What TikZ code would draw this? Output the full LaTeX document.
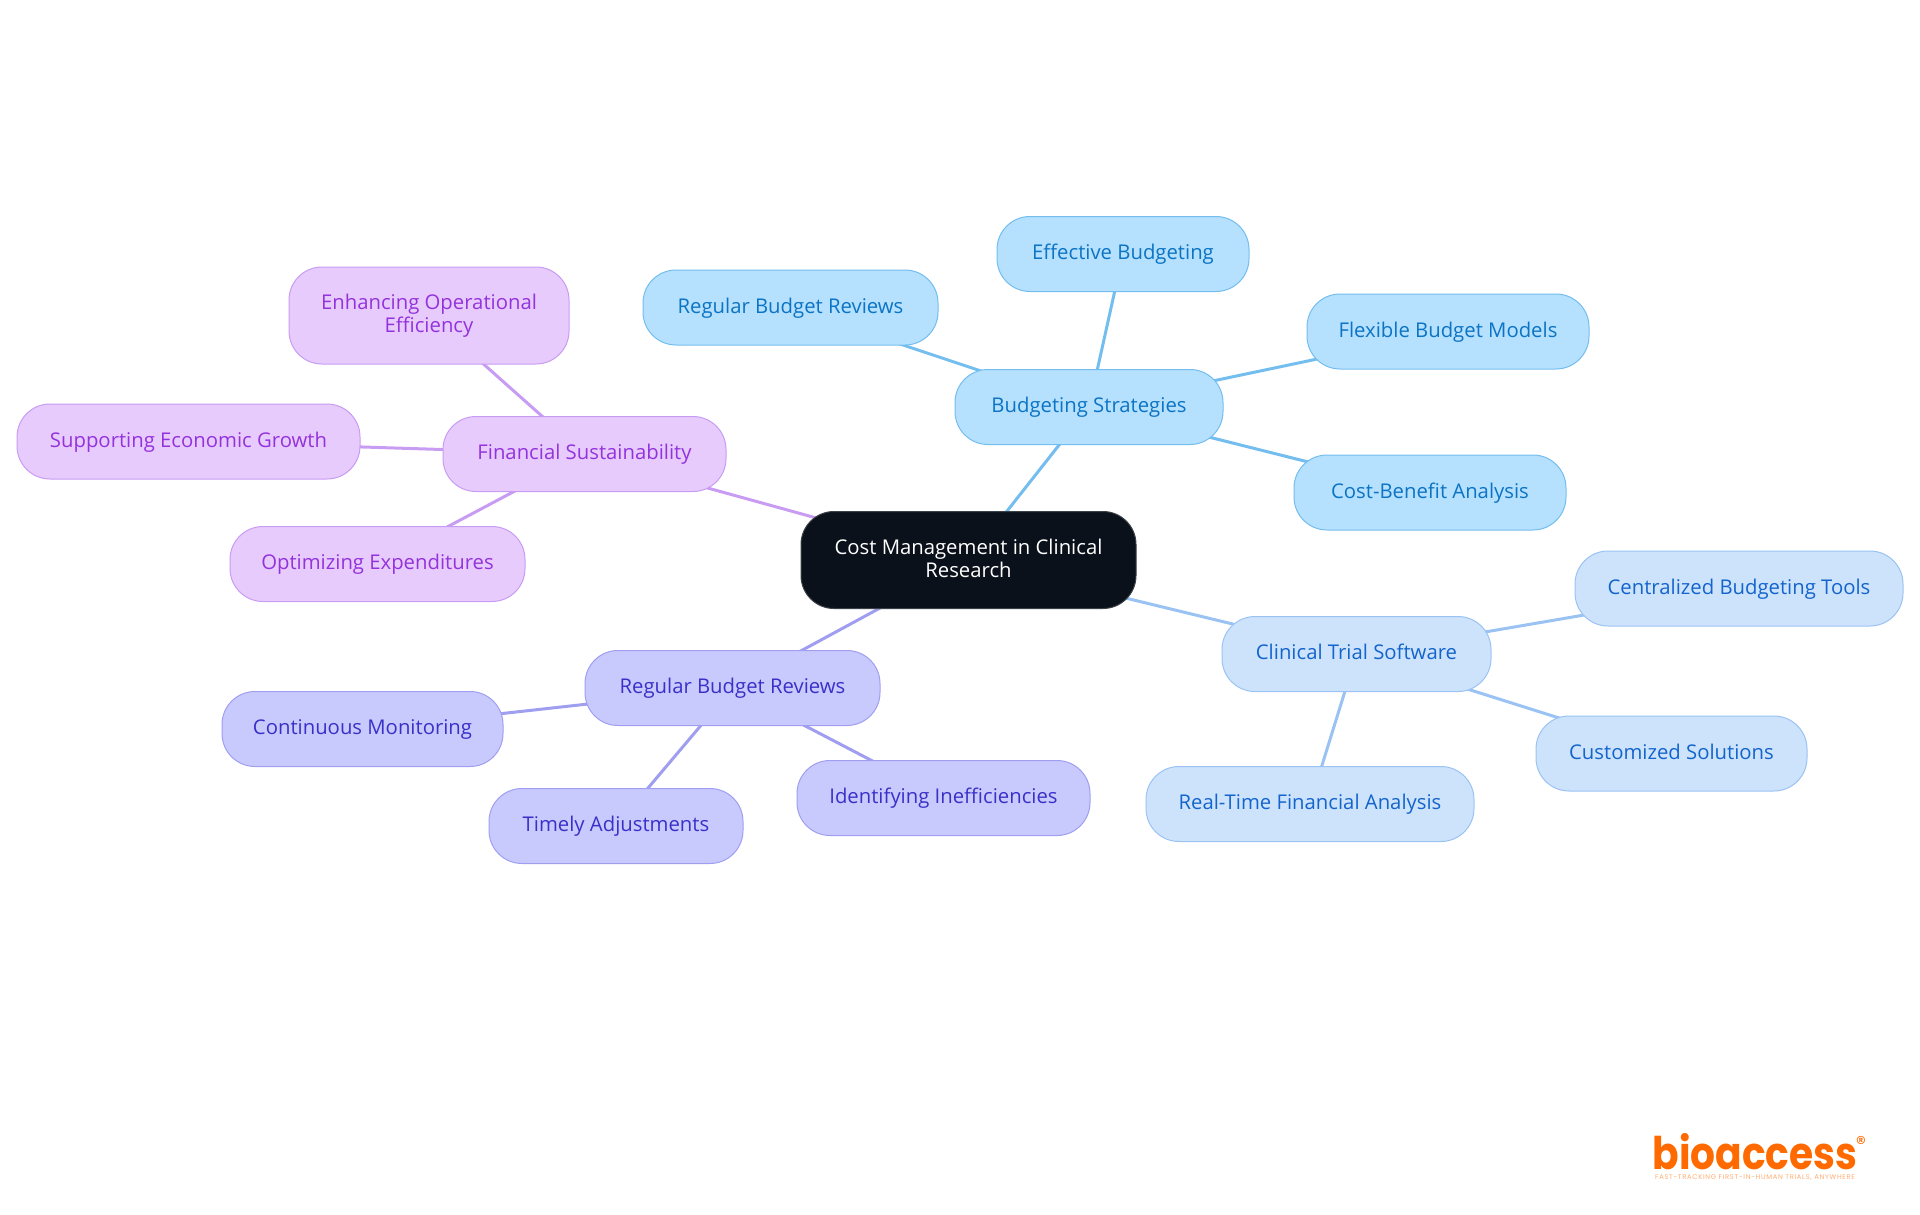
\documentclass[tikz,border=0pt]{standalone}
\usepackage{fontspec}
\setmainfont{Open Sans}
\newfontfamily\logofont{Poppins}
\newfontfamily\tagfont[LetterSpace=10]{Poppins}
\usepackage{xcolor}
\usetikzlibrary{backgrounds}
\definecolor{rootfill}{HTML}{0A111A}
\definecolor{skyfill}{HTML}{B5E0FE}
\definecolor{skyline}{HTML}{74BEEF}
\definecolor{skytext}{HTML}{0B74C4}
\definecolor{azurefill}{HTML}{CDE3FC}
\definecolor{azureline}{HTML}{9AC3F3}
\definecolor{azuretext}{HTML}{1364CC}
\definecolor{indigofill}{HTML}{C8CAFE}
\definecolor{indigoline}{HTML}{A09EF0}
\definecolor{indigotext}{HTML}{3A30C8}
\definecolor{violetfill}{HTML}{E8CBFD}
\definecolor{violetline}{HTML}{C89CF3}
\definecolor{violettext}{HTML}{9333DC}
\definecolor{logoorange}{HTML}{FF6A00}
\tikzset{
  mapbox/.style={rectangle, rounded corners=33pt, line width=1pt, minimum height=75, inner sep=0pt, align=center, text height=15, text depth=4, font=\fontsize{20.3}{23}\selectfont},
  twolines/.style={minimum height=97, text height=38},
  rootbox/.style={mapbox, fill=rootfill, draw=rootfill!80!white, text=white},
  skybox/.style={mapbox, fill=skyfill, draw=skyline, text=skytext},
  azurebox/.style={mapbox, fill=azurefill, draw=azureline, text=azuretext},
  indigobox/.style={mapbox, fill=indigofill, draw=indigoline, text=indigotext},
  violetbox/.style={mapbox, fill=violetfill, draw=violetline, text=violettext},
  branch/.style={line width=3pt}
}
\begin{document}
\begin{tikzpicture}[x=1pt, y=-1pt]
  \useasboundingbox (0, 0) rectangle (1920, 1215);

  \node[rootbox, twolines, minimum width=335] (root) at (968.5, 560) {Cost Management in Clinical\\Research};

  \node[skybox, minimum width=268] (budgeting) at (1089, 407) {Budgeting Strategies};
  \node[skybox, minimum width=252] (effective) at (1123, 254) {Effective Budgeting};
  \node[skybox, minimum width=295] (reviewsA) at (790.5, 307.5) {Regular Budget Reviews};
  \node[skybox, minimum width=282] (flexible) at (1448, 331.5) {Flexible Budget Models};
  \node[skybox, minimum width=272] (benefit) at (1430, 492.5) {Cost-Benefit Analysis};

  \node[azurebox, minimum width=269] (software) at (1356.5, 654) {Clinical Trial Software};
  \node[azurebox, minimum width=328] (centralized) at (1739, 588.5) {Centralized Budgeting Tools};
  \node[azurebox, minimum width=271] (customized) at (1671.5, 753.5) {Customized Solutions};
  \node[azurebox, minimum width=328] (realtime) at (1310, 804) {Real-Time Financial Analysis};

  \node[indigobox, minimum width=295] (reviewsB) at (732.5, 688) {Regular Budget Reviews};
  \node[indigobox, minimum width=281] (continuous) at (362.5, 729) {Continuous Monitoring};
  \node[indigobox, minimum width=254] (timely) at (616, 826) {Timely Adjustments};
  \node[indigobox, minimum width=293] (identifying) at (943.5, 798) {Identifying Inefficiencies};

  \node[violetbox, minimum width=283] (financial) at (584.5, 454) {Financial Sustainability};
  \node[violetbox, twolines, minimum width=280] (enhancing) at (429, 315.5) {Enhancing Operational\\Efficiency};
  \node[violetbox, minimum width=343] (supporting) at (188.5, 441.5) {Supporting Economic Growth};
  \node[violetbox, minimum width=295] (optimizing) at (377.5, 564) {Optimizing Expenditures};

  \begin{scope}[on background layer]
    \foreach \a/\b in {root/budgeting, budgeting/effective, budgeting/reviewsA, budgeting/flexible, budgeting/benefit}
      \draw[branch, skyline] (\a.center) -- (\b.center);
    \foreach \a/\b in {root/software, software/centralized, software/customized, software/realtime}
      \draw[branch, azureline] (\a.center) -- (\b.center);
    \foreach \a/\b in {root/reviewsB, reviewsB/continuous, reviewsB/timely, reviewsB/identifying}
      \draw[branch, indigoline] (\a.center) -- (\b.center);
    \foreach \a/\b in {root/financial, financial/enhancing, financial/supporting, financial/optimizing}
      \draw[branch, violetline] (\a.center) -- (\b.center);
  \end{scope}

  % logo
  \node[inner sep=0pt, xscale=0.87, text=logoorange, text depth=0pt, font=\logofont\bfseries\fontsize{45}{45}\selectfont] (logo) at (1755, 1151) {bioaccess};
  \node[inner sep=0pt, text=logoorange, font=\logofont\fontsize{20}{20}\selectfont] (reg) at (1861, 1143) {\textregistered};
  \node[inner sep=0pt, text=logoorange!55, font=\tagfont\fontsize{6.8}{6.8}\selectfont] (tagline) at (1755, 1178) {FAST-TRACKING FIRST-IN-HUMAN TRIALS, ANYWHERE};
\end{tikzpicture}
\end{document}
